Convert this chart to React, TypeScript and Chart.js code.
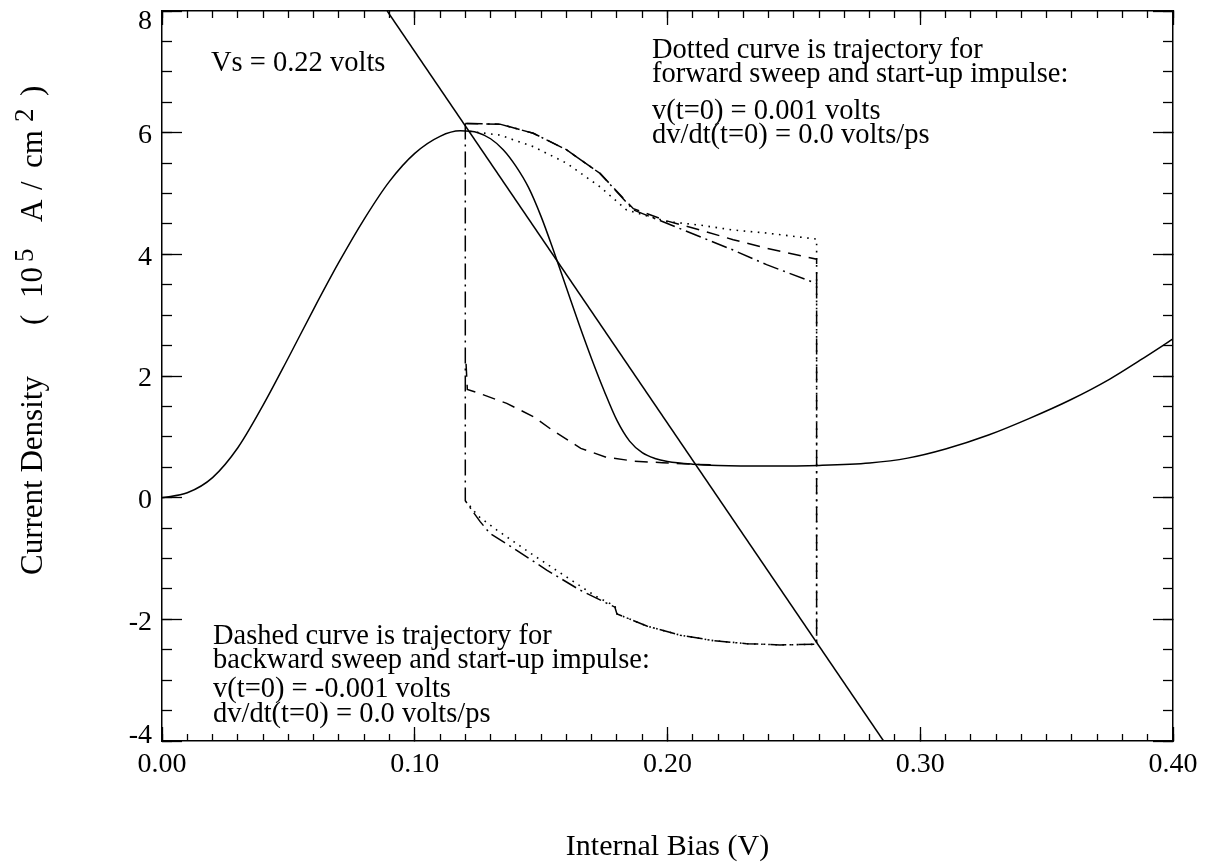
import React, { useEffect, useRef } from "react";
import { Chart, registerables } from "chart.js";

Chart.register(...registerables);

const SERIF = '"Liberation Serif", "Times New Roman", serif';

// ---- Data (Internal Bias in V, Current Density in 10^5 A/cm^2) ----
// Solid I–V characteristic
const ivBias = [0, 0.01, 0.02, 0.03, 0.04, 0.05, 0.06, 0.07, 0.08, 0.09, 0.1, 0.11, 0.118, 0.125, 0.13, 0.135, 0.14, 0.145, 0.15, 0.155, 0.16, 0.165, 0.17, 0.175, 0.18, 0.185, 0.19, 0.195, 0.2, 0.21, 0.22, 0.24, 0.26, 0.28, 0.295, 0.31, 0.327, 0.343, 0.3595, 0.375, 0.387, 0.4];
const ivCurrent = [0, 0.08, 0.33, 0.82, 1.52, 2.3, 3.1, 3.87, 4.58, 5.2, 5.66, 5.94, 6.03, 6.0, 5.9, 5.72, 5.45, 5.1, 4.62, 4.05, 3.45, 2.85, 2.28, 1.75, 1.27, 0.93, 0.74, 0.645, 0.595, 0.55, 0.53, 0.52, 0.53, 0.57, 0.65, 0.8, 1.03, 1.3, 1.61, 1.95, 2.26, 2.61];

// Load line (Vs = 0.22 V)
const loadBias = [0.0891, 0.2855];
const loadCurrent = [8, -4];

// Dash-dot limit cycle
const cycleBias = [0.12, 0.12, 0.1225, 0.1258, 0.1298, 0.139, 0.1522, 0.1654, 0.1792, 0.18, 0.1918, 0.205, 0.2181, 0.2313, 0.2445, 0.259, 0.259, 0.2392, 0.226, 0.2129, 0.1997, 0.1865, 0.1733, 0.16, 0.1469, 0.1337, 0.12];
const cycleCurrent = [6.15, -0.05, -0.2, -0.39, -0.59, -0.83, -1.19, -1.52, -1.8, -1.91, -2.11, -2.26, -2.35, -2.4, -2.42, -2.41, 3.52, 3.83, 4.07, 4.29, 4.51, 4.73, 5.33, 5.72, 5.99, 6.14, 6.15];

// Dotted: forward sweep trajectory
const forwardBias = [0.1218, 0.1337, 0.1469, 0.16, 0.1733, 0.1838, 0.1997, 0.2129, 0.226, 0.2392, 0.259, 0.259, 0.2445, 0.2313, 0.2181, 0.205, 0.1918, 0.18, 0.1792, 0.172, 0.1588, 0.1457, 0.1324, 0.125, 0.1215];
const forwardCurrent = [6.02, 5.96, 5.77, 5.5, 5.11, 4.73, 4.54, 4.48, 4.4, 4.35, 4.25, -2.41, -2.42, -2.4, -2.35, -2.26, -2.11, -1.91, -1.78, -1.63, -1.27, -0.91, -0.53, -0.3, -0.12];

// Dashed: backward sweep trajectory (two visible pieces)
const backwardUpperBias = [0.12, 0.1337, 0.1469, 0.16, 0.1733, 0.1865, 0.1997, 0.2129, 0.226, 0.2392, 0.259, 0.259];
const backwardUpperCurrent = [6.15, 6.14, 5.99, 5.72, 5.33, 4.75, 4.55, 4.4, 4.24, 4.1, 3.92, 3.52];
const backwardLowerBias = [0.1203, 0.1208, 0.1252, 0.1364, 0.147, 0.1544, 0.1657, 0.1754, 0.1867, 0.198, 0.21, 0.22];
const backwardLowerCurrent = [2.2, 1.78, 1.72, 1.55, 1.33, 1.11, 0.81, 0.67, 0.6, 0.575, 0.55, 0.535];

// Axis ranges / tick steps
const xRange = [0, 0.4];
const yRange = [-4, 8];
const xMajorStep = 0.1;
const xMinorStep = 0.01;
const yMajorStep = 2;
const yMinorStep = 0.5;

// Texts
const xTitle = "Internal Bias (V)";
const yTitleMain = "Current Density";
const yTitleUnitParts = ["(", "10", "5", "A", "/", "cm", "2", ")"];
const vsLabel = "Vs = 0.22 volts";
const forwardNote = [
  "Dotted curve is trajectory for",
  "forward sweep and start-up impulse:",
  "v(t=0) = 0.001 volts",
  "dv/dt(t=0) = 0.0 volts/ps",
];
const backwardNote = [
  "Dashed curve is trajectory for",
  "backward sweep and start-up impulse:",
  "v(t=0) = -0.001 volts",
  "dv/dt(t=0) = 0.0 volts/ps",
];

const toPoints = (xs: number[], ys: number[]) => xs.map((x, i) => ({ x, y: ys[i] }));

const notesPlugin = {
  id: "notes",
  afterDraw(chart: any) {
    const ctx: CanvasRenderingContext2D = chart.ctx;
    ctx.save();
    ctx.fillStyle = "#000";
    ctx.textAlign = "left";
    ctx.textBaseline = "alphabetic";
    ctx.font = `28.5px ${SERIF}`;
    ctx.fillText(vsLabel, 211, 71);
    const fb = [58, 82, 119, 143];
    forwardNote.forEach((t, i) => ctx.fillText(t, 652, fb[i]));
    const bb = [644, 668, 697, 722];
    backwardNote.forEach((t, i) => ctx.fillText(t, 213, bb[i]));

    // rotated y-axis title
    const drawRot = (text: string, startY: number, baseX: number, size: number) => {
      ctx.save();
      ctx.font = `${size}px ${SERIF}`;
      ctx.translate(baseX, startY);
      ctx.rotate(-Math.PI / 2);
      ctx.fillText(text, 0, 0);
      ctx.restore();
    };
    const base = 42;
    drawRot(yTitleMain, 575, base, 31);
    const [lp, ten, five, amp, slash, cm, two, rp] = yTitleUnitParts;
    drawRot(lp, 325, base, 31);
    drawRot(ten, 298, base, 31);
    drawRot(five, 262, base - 9, 27);
    drawRot(amp, 222, base, 31);
    drawRot(slash, 190, base, 31);
    drawRot(cm, 168, base, 31);
    drawRot(two, 122, base - 9, 27);
    drawRot(rp, 96, base, 31);
    ctx.restore();
  },
};

function axis(position: string, opts: any) {
  return {
    type: "linear",
    position,
    weight: opts.weight ?? 0,
    min: opts.min,
    max: opts.max,
    afterFit: opts.afterFit,
    border: { display: !!opts.border, color: "#000", width: 1.5 },
    grid: {
      display: true,
      drawOnChartArea: false,
      drawTicks: opts.tickLength !== 0,
      tickLength: opts.tickLength,
      tickColor: opts.tickColor ?? "#000",
      tickWidth: 1.3,
    },
    ticks: {
      display: !!opts.labels,
      stepSize: opts.step,
      maxTicksLimit: 1000,
      autoSkip: false,
      maxRotation: 0,
      color: "#000",
      font: opts.font,
      padding: opts.padding ?? 0,
      callback: opts.callback,
    },
    title: opts.title ?? { display: false },
  };
}

// vertical nudge of the y tick labels (label drawn as two lines with a blank one)
const yLabelShift = (v: number) => (v >= yRange[1] ? 11 : v <= yRange[0] ? -5 : 3);

export default function App() {
  const ref = useRef<HTMLCanvasElement>(null);
  useEffect(() => {
    if (!ref.current) return;
    const common = { pointRadius: 0, borderColor: "#000", showLine: true, fill: false };
    const chart = new Chart(ref.current, {
      type: "scatter",
      data: {
        datasets: [
          { ...common, data: toPoints(ivBias, ivCurrent), borderWidth: 1.5, cubicInterpolationMode: "monotone" },
          { ...common, data: toPoints(loadBias, loadCurrent), borderWidth: 1.5 },
          { ...common, data: toPoints(cycleBias, cycleCurrent), borderWidth: 1.5, borderDash: [16, 5, 2, 5] },
          { ...common, data: toPoints(forwardBias, forwardCurrent), borderWidth: 1.6, borderDash: [1.6, 5.5] },
          { ...common, data: toPoints(backwardUpperBias, backwardUpperCurrent), borderWidth: 1.5, borderDash: [13, 8] },
          { ...common, data: toPoints(backwardLowerBias, backwardLowerCurrent), borderWidth: 1.5, borderDash: [13, 8] },
        ],
      } as any,
      options: {
        responsive: false,
        animation: false,
        devicePixelRatio: 1,
        events: [],
        layout: { padding: { left: 0, top: 11, right: 34, bottom: 0 } },
        plugins: { legend: { display: false }, tooltip: { enabled: false } },
        scales: {
          x: axis("bottom", {
            weight: 1,
            min: xRange[0],
            max: xRange[1],
            step: xMajorStep,
            tickLength: -14,
            border: true,
            labels: true,
            padding: 0,
            font: { family: SERIF, size: 28, lineHeight: 76 / 28 },
            callback: (v: any) => Number(v).toFixed(2),
            afterFit: (s: any) => { s.height = 126; },
            title: { display: true, text: xTitle, color: "#000", font: { family: SERIF, size: 30 }, padding: { top: 0, bottom: 2 } },
          }),
          xMinor: axis("bottom", {
            weight: 0, min: xRange[0], max: xRange[1], step: xMinorStep, tickLength: -7,
            afterFit: (s: any) => { s.height = 0; },
          }),
          xTop: axis("top", {
            weight: 0, min: xRange[0], max: xRange[1], step: xMajorStep, tickLength: -14, border: true,
            afterFit: (s: any) => { s.height = 0; },
          }),
          xTopMinor: axis("top", {
            weight: 1, min: xRange[0], max: xRange[1], step: xMinorStep, tickLength: -7,
            afterFit: (s: any) => { s.height = 0; },
          }),
          y: axis("left", {
            weight: 2,
            min: yRange[0],
            max: yRange[1],
            step: yMajorStep,
            tickLength: 40,
            tickColor: "rgba(0,0,0,0)",
            border: true,
            labels: true,
            padding: -30,
            font: (c: any) => {
              const v = c.tick ? c.tick.value : 0;
              return { family: SERIF, size: 28, lineHeight: (2 * Math.abs(yLabelShift(v))) / 28 };
            },
            callback: (v: any) => {
              const s = String(Math.round(Number(v)));
              return yLabelShift(Number(v)) > 0 ? ["", s] : [s, ""];
            },
            afterFit: (s: any) => { s.width = 162; },
          }),
          yMajor: axis("left", {
            weight: 1, min: yRange[0], max: yRange[1], step: yMajorStep, tickLength: -20,
            afterFit: (s: any) => { s.width = 0; },
          }),
          yMinor: axis("left", {
            weight: 0, min: yRange[0], max: yRange[1], step: yMinorStep, tickLength: -10,
            afterFit: (s: any) => { s.width = 0; },
          }),
          yRight: axis("right", {
            weight: 0, min: yRange[0], max: yRange[1], step: yMajorStep, tickLength: -20, border: true,
            afterFit: (s: any) => { s.width = 0; },
          }),
          yRightMinor: axis("right", {
            weight: 1, min: yRange[0], max: yRange[1], step: yMinorStep, tickLength: -10,
            afterFit: (s: any) => { s.width = 0; },
          }),
        } as any,
      },
      plugins: [notesPlugin],
    });
    return () => chart.destroy();
  }, []);
  return (
    <div style={{ position: "absolute", left: 0, top: 0, width: 1207, height: 867, background: "#fff" }}>
      <canvas ref={ref} width={1207} height={867} style={{ display: "block", width: 1207, height: 867 }} />
    </div>
  );
}
